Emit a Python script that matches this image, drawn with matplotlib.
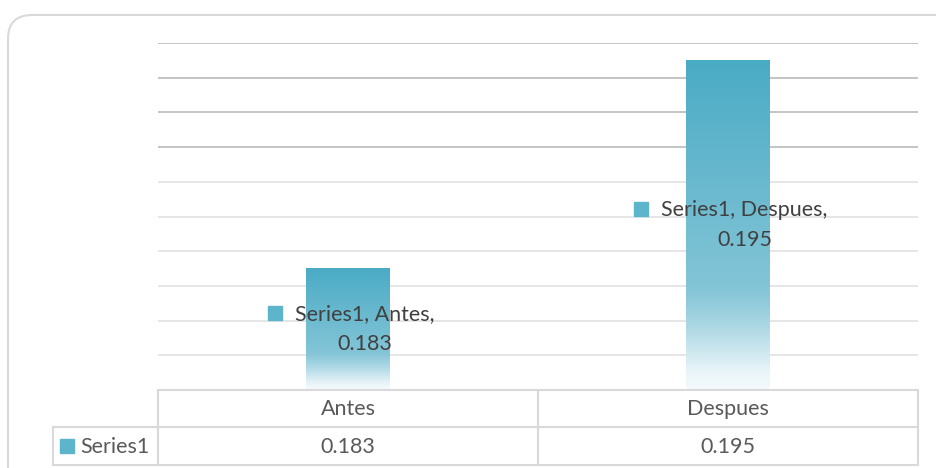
import numpy as np
import matplotlib
matplotlib.use('Agg')
import matplotlib.pyplot as plt
from matplotlib.colors import LinearSegmentedColormap
from matplotlib.patches import FancyBboxPatch
from matplotlib.lines import Line2D
from matplotlib.transforms import offset_copy

series_name = 'Series1'
categories = ['Antes', 'Despues']
values = [0.183, 0.195]
y_min, y_max, y_step = 0.176, 0.196, 0.002

W, H = 936, 468
FS = 15.5
plt.rcParams['font.family'] = ['Lato', 'DejaVu Sans']
fig = plt.figure(figsize=(W / 100, H / 100), dpi=100)

def fx(px):
    return px / W

def fy(py):
    return 1 - py / H

# chart area border (rounded, runs off the right/bottom edge)
border = FancyBboxPatch((8, -30), 980, H - 15 + 30, boxstyle='round,pad=0,rounding_size=24',
                        transform=None, fill=False, edgecolor='#d9d9d9', linewidth=1.5)
fig.add_artist(border)

ax = fig.add_axes([fx(158), fy(390), fx(918) - fx(158), fy(43) - fy(390)])
for s in ax.spines.values():
    s.set_visible(False)
ax.set_xticks([])
ax.set_yticks([])

# gridlines
for g in np.arange(y_min + y_step, y_max + y_step / 2, y_step):
    col = '#c4c4c4' if g > 0.1895 else '#e6e6e6'
    ax.axhline(g, color=col, linewidth=1.4, zorder=1)

bar_cmap = LinearSegmentedColormap.from_list('bar', [
    (0.0, '#4aabc5'), (0.70, '#84c5d7'), (0.80, '#a9d6e3'),
    (0.95, '#eaf5f9'), (1.0, '#f5fafc')])
grad = np.linspace(0, 1, 256).reshape(-1, 1)
bar_w = 0.22
for i, v in enumerate(values):
    ax.imshow(grad, cmap=bar_cmap, aspect='auto', interpolation='bilinear',
              extent=[i - bar_w / 2, i + bar_w / 2, y_min, v], origin='upper', zorder=2)
ax.set_xlim(-0.5, len(categories) - 0.5)
ax.set_ylim(y_min, y_max)

# data labels
labels = []
for i, v in enumerate(values):
    tr = offset_copy(ax.transData, fig=fig, x=12, y=0, units='points')
    t = ax.text(i, (y_min + v) / 2, f'{series_name}, {categories[i]},\n{v:.3f}',
                transform=tr, ha='center', va='center', multialignment='center',
                fontsize=FS, color='#404040', zorder=3, linespacing=1.62)
    labels.append(t)

fig.canvas.draw()
r = fig.canvas.get_renderer()
for t in labels:
    bb = t.get_window_extent(r)
    kx = bb.x0 - 20
    ky = bb.y1 - 9
    fig.add_artist(Line2D([kx], [ky], marker='s', markersize=9.5, color='#5db5cc',
                          transform=None, linestyle='none'))

# data table
tc = '#d9d9d9'
def hline(x0, x1, y):
    fig.add_artist(Line2D([fx(x0), fx(x1)], [fy(y), fy(y)], color=tc, linewidth=1.5))

def vline(x, y0, y1):
    fig.add_artist(Line2D([fx(x), fx(x)], [fy(y0), fy(y1)], color=tc, linewidth=1.5))

hline(158, 918, 390)
hline(53, 918, 427)
hline(53, 918, 465)
vline(53, 427, 465)
for x in [158, 538, 918]:
    vline(x, 390, 465)

col_w = 380
for i, c in enumerate(categories):
    cx = 158 + col_w * (i + 0.5)
    fig.text(fx(cx), fy(409), c, ha='center', va='center', fontsize=FS, color='#595959')
    fig.text(fx(cx), fy(447), f'{values[i]:.3f}', ha='center', va='center',
             fontsize=FS, color='#595959')

fig.add_artist(Line2D([fx(67)], [fy(446)], marker='s', markersize=9.5, color='#5db5cc',
                      linestyle='none'))
fig.text(fx(80), fy(447), series_name, ha='left', va='center', fontsize=FS, color='#595959')

fig.savefig('out.png', dpi=100)
